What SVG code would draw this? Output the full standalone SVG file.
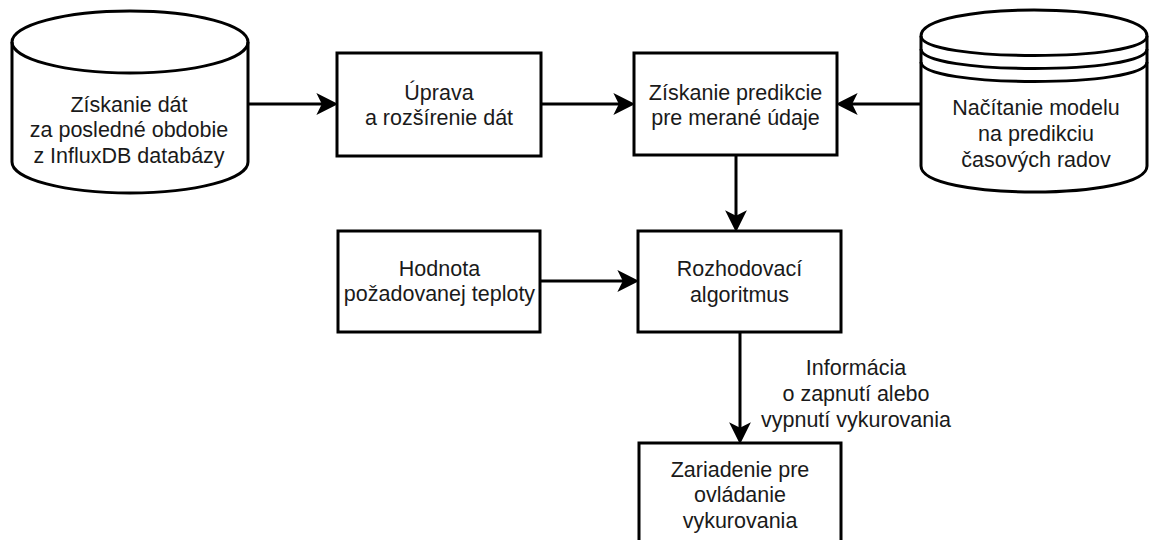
<svg xmlns="http://www.w3.org/2000/svg" width="1149" height="540" viewBox="0 0 1149 540">
<defs>
<style>
.shape{fill:#ffffff;stroke:#000000;stroke-width:3}
.line{fill:none;stroke:#000000;stroke-width:3}
.edge{fill:none;stroke:#000000;stroke-width:3}
text{font-family:"Liberation Sans",Arial,Helvetica,sans-serif;font-size:21.5px;fill:#1a1a1a;text-anchor:middle}
</style>
<marker id="arrow" markerUnits="userSpaceOnUse" markerWidth="24" markerHeight="24" viewBox="0 0 22 22" refX="8" refY="11" orient="auto">
<path d="M21,11 L1,1 L6,11 L1,21 Z" fill="#000000"/>
</marker>
</defs>
<rect width="1149" height="540" fill="#ffffff"/>

<g id="connectors">
<line class="edge" x1="248" y1="104" x2="324" y2="104" marker-end="url(#arrow)"/>
<line class="edge" x1="541" y1="104" x2="621" y2="104" marker-end="url(#arrow)"/>
<line class="edge" x1="921" y1="104" x2="850" y2="104" marker-end="url(#arrow)"/>
<line class="edge" x1="736" y1="155" x2="736" y2="218" marker-end="url(#arrow)"/>
<line class="edge" x1="540" y1="281" x2="625" y2="281" marker-end="url(#arrow)"/>
<line class="edge" x1="740" y1="332" x2="740" y2="430" marker-end="url(#arrow)"/>
<text x="856" y="375">Informácia</text>
<text x="856" y="400.8">o zapnutí alebo</text>
<text x="856" y="426.6">vypnutí vykurovania</text>
</g>

<g id="node-influx">
<path class="shape" d="M12,42 A118,31 0 0 1 248,42 L248,162 A118,31 0 0 1 12,162 Z"/>
<path class="line" d="M12,42 A118,31 0 0 0 248,42"/>
<text x="129" y="111.5">Získanie dát</text>
<text x="129" y="137">za posledné obdobie</text>
<text x="129" y="162.5">z InfluxDB databázy</text>
</g>

<g id="node-uprava">
<rect class="shape" x="337" y="53" width="204" height="103"/>
<text x="439" y="99.5">Úprava</text>
<text x="439" y="125.3">a rozšírenie dát</text>
</g>

<g id="node-predikcia">
<rect class="shape" x="634" y="53" width="203" height="102"/>
<text x="735.5" y="99.5">Získanie predikcie</text>
<text x="735.5" y="125.3">pre merané údaje</text>
</g>

<g id="node-model">
<path class="shape" d="M921,36 C921,1.3 1147,1.3 1147,36 L1147,166 C1147,200.7 921,200.7 921,166 Z"/>
<path class="line" d="M921,36 C921,62 1147,62 1147,36"/>
<path class="line" d="M921,49 C921,75 1147,75 1147,49"/>
<path class="line" d="M921,62 C921,88 1147,88 1147,62"/>
<text x="1036" y="115">Načítanie modelu</text>
<text x="1036" y="140.8">na predikciu</text>
<text x="1036" y="166.6">časových radov</text>
</g>

<g id="node-hodnota">
<rect class="shape" x="338" y="231" width="202" height="101"/>
<text x="439.5" y="275.5">Hodnota</text>
<text x="439.5" y="301.3">požadovanej teploty</text>
</g>

<g id="node-rozhodovaci">
<rect class="shape" x="638" y="231" width="203" height="101"/>
<text x="739.5" y="276">Rozhodovací</text>
<text x="739.5" y="301.8">algoritmus</text>
</g>

<g id="node-zariadenie">
<rect class="shape" x="639" y="443" width="202" height="102"/>
<text x="740" y="476.5">Zariadenie pre</text>
<text x="740" y="502.3">ovládanie</text>
<text x="740" y="528.1">vykurovania</text>
</g>
</svg>
